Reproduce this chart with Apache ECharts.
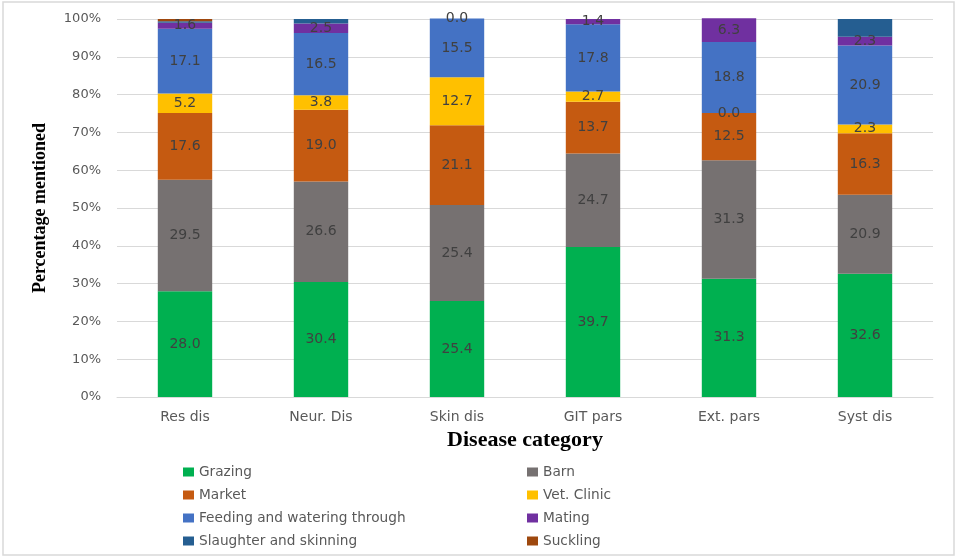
<!DOCTYPE html>
<html>
<head>
<meta charset="utf-8">
<script src="https://cdn.jsdelivr.net/npm/echarts@6/dist/echarts.min.js"></script>
<style>
    html, body { margin: 0; padding: 0; background: #fff; }
    #chartArea { width: 957px; height: 559px; }
</style>
</head>
<body>
<div id="chartArea"></div>
<script>
// data (percent of mentions per disease category)
var categories = ['Res dis', 'Neur. Dis', 'Skin dis', 'GIT pars', 'Ext. pars', 'Syst dis'];
var grazing   = [28.0, 30.4, 25.4, 39.7, 31.3, 32.6];
var barn      = [29.5, 26.6, 25.4, 24.7, 31.3, 20.9];
var market    = [17.6, 19.0, 21.1, 13.7, 12.5, 16.3];
var vetClinic = [5.2, 3.8, 12.7, 2.7, 0.0, 2.3];
var feeding   = [17.1, 16.5, 15.5, 17.8, 18.8, 20.9];
var mating    = [1.6, 2.5, 0.0, 1.4, 6.3, 2.3];
var slaughter = [0.4, 1.2, 0.0, 0.0, 0.0, 4.7];
var suckling  = [0.6, 0.0, 0.0, 0.0, 0.0, 0.0];
var yTicks = ['0%', '10%', '20%', '30%', '40%', '50%', '60%', '70%', '80%', '90%', '100%'];

var seriesDefs = [
    ['Grazing', grazing, '#00B050', true],
    ['Barn', barn, '#767171', true],
    ['Market', market, '#C55A11', true],
    ['Vet. Clinic', vetClinic, '#FFC000', true],
    ['Feeding and watering through', feeding, '#4472C4', true],
    ['Mating', mating, '#7030A0', true],
    ['Slaughter and skinning', slaughter, '#255E91', false],
    ['Suckling', suckling, '#9E480E', false]
];

var series = seriesDefs.map(function (d) {
    return {
        name: d[0],
        type: 'bar',
        stack: 'total',
        barWidth: '40%',
        clip: false,
        data: d[1],
        itemStyle: { color: d[2] },
        label: {
            show: d[3],
            position: 'inside',
            color: '#404040',
            fontSize: 14,
            fontFamily: 'DejaVu Sans',
            formatter: function (p) { return p.value.toFixed(1); }
        }
    };
});

var legendText = { color: '#595959', fontSize: 13.7, fontFamily: 'DejaVu Sans' };

var option = {
    animation: false,
    backgroundColor: '#fff',
    graphic: [{
        type: 'rect',
        shape: { x: 3, y: 2, width: 951, height: 553 },
        style: { fill: 'none', stroke: '#d9d9d9', lineWidth: 1.5 }
    }],
    legend: [
        {
            data: ['Grazing', 'Market', 'Feeding and watering through', 'Slaughter and skinning'],
            orient: 'vertical',
            left: 178, top: 460, height: 100,
            itemWidth: 11, itemHeight: 9, itemGap: 9,
            icon: 'rect',
            textStyle: legendText
        },
        {
            data: ['Barn', 'Vet. Clinic', 'Mating', 'Suckling'],
            orient: 'vertical',
            left: 522, top: 460, height: 100,
            itemWidth: 11, itemHeight: 9, itemGap: 9,
            icon: 'rect',
            textStyle: legendText
        }
    ],
    grid: { left: 117, right: 24, top: 19, bottom: 162, containLabel: false },
    xAxis: {
        type: 'category',
        data: categories,
        name: 'Disease category',
        nameLocation: 'middle',
        nameGap: 29,
        nameTextStyle: { fontFamily: 'Liberation Serif', fontWeight: 'bold', fontSize: 22, color: '#000' },
        axisLine: { lineStyle: { color: '#d9d9d9' } },
        axisTick: { show: false },
        axisLabel: { color: '#595959', fontSize: 14, fontFamily: 'DejaVu Sans', margin: 13 }
    },
    yAxis: {
        type: 'value',
        min: 0, max: 100, interval: 10,
        name: 'Percentage mentioned',
        nameLocation: 'middle',
        nameGap: 68,
        nameTextStyle: { fontFamily: 'Liberation Serif', fontWeight: 'bold', fontSize: 18, color: '#000' },
        axisLine: { show: false },
        axisTick: { show: false },
        splitLine: { lineStyle: { color: '#d9d9d9' } },
        axisLabel: {
            color: '#595959', fontSize: 13, fontFamily: 'DejaVu Sans', margin: 16,
            formatter: function (v) { return yTicks[Math.round(v / 10)]; }
        }
    },
    series: series
};

var myChart = echarts.init(document.getElementById('chartArea'));
myChart.setOption(option);
</script>
</body>
</html>
